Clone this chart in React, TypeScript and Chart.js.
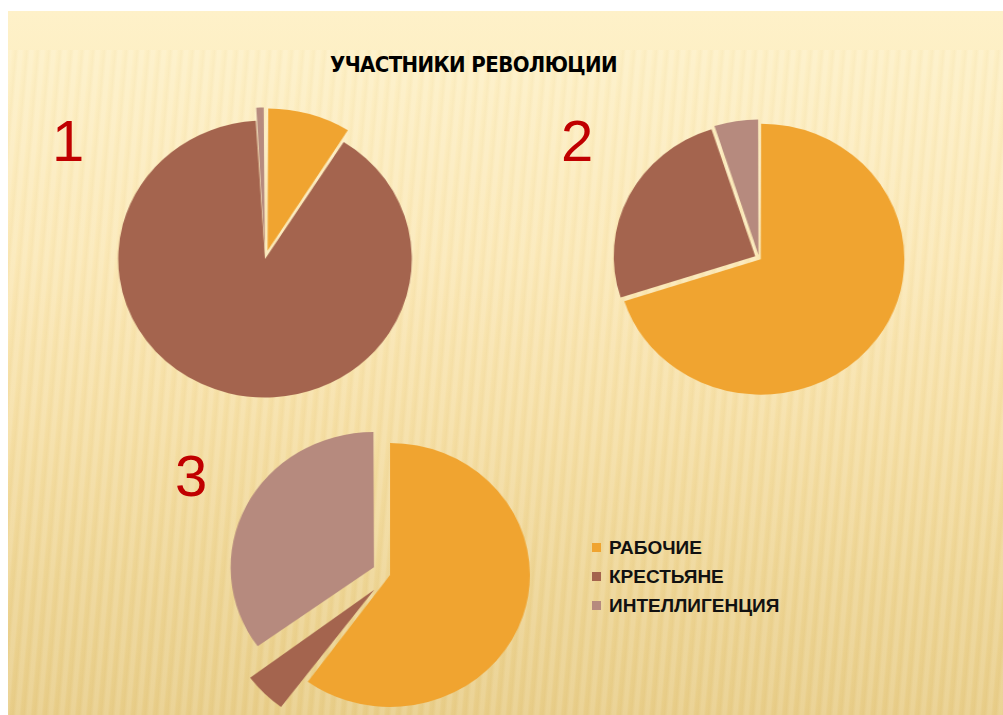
import React, { useEffect, useRef } from "react";
import { Chart, registerables } from "chart.js";

Chart.register(...registerables);

// ---- data ----
const categories = ["РАБОЧИЕ", "КРЕСТЬЯНЕ", "ИНТЕЛЛИГЕНЦИЯ"];
const pie1Values = [9, 90, 1];
const pie2Values = [70, 25, 5];
const pie3Values = [60, 5, 35];
const pieNumbers = ["1", "2", "3"];
const title = "УЧАСТНИКИ РЕВОЛЮЦИИ";

// ---- styles ----
const sliceColors = ["#F0A430", "#A4644E", "#B68A7E"];
const STRETCH = 1.06;
const CANVAS = 360;
// Chart.js translates an arc by offset / 4 pixels
const OFFSET_SCALE = 4;

type PieCfg = { values: number[]; cx: number; cy: number; r: number; offsets: number[] };
const pies: PieCfg[] = [
  { values: pie1Values, cx: 265, cy: 258.5, r: 138.5, offsets: [8.5, 0, 6.7] },
  { values: pie2Values, cx: 758.5, cy: 257.6, r: 133.5, offsets: [2, 4, 3] },
  { values: pie3Values, cx: 390, cy: 575, r: 132, offsets: [0, 21, 17] },
];
const numberPos = [
  { left: 52, top: 106 },
  { left: 561, top: 106 },
  { left: 175, top: 441 },
];

function Pie({ cfg }: { cfg: PieCfg }) {
  const ref = useRef<HTMLCanvasElement | null>(null);
  useEffect(() => {
    if (!ref.current) return;
    const chart = new Chart(ref.current, {
      type: "pie",
      data: {
        labels: categories,
        datasets: [
          {
            data: cfg.values,
            backgroundColor: sliceColors,
            borderWidth: 0,
            offset: cfg.offsets.map((o) => o * OFFSET_SCALE),
          },
        ],
      },
      options: {
        responsive: false,
        animation: false,
        radius: cfg.r,
        layout: { padding: 0 },
        plugins: { legend: { display: false }, tooltip: { enabled: false }, title: { display: false } },
      } as any,
    });
    return () => chart.destroy();
  }, [cfg]);
  return (
    <div
      style={{
        position: "absolute",
        left: cfg.cx - CANVAS / 2,
        top: cfg.cy - CANVAS / 2,
        width: CANVAS,
        height: CANVAS,
        transform: `scaleX(${STRETCH})`,
        transformOrigin: "50% 50%",
      }}
    >
      <canvas ref={ref} width={CANVAS} height={CANVAS} style={{ display: "block" }} />
    </div>
  );
}

export default function App() {
  return (
    <div
      style={{
        position: "fixed",
        left: 0,
        top: 0,
        width: 1003,
        height: 715,
        overflow: "hidden",
        background: "#ffffff",
      }}
    >
      <div
        style={{
          position: "absolute",
          left: 8,
          top: 11,
          width: 995,
          height: 704,
          background:
            "linear-gradient(180deg, #FEF1C9 0%, #FDEFC4 8%, #FBE8B6 35%, #F5DEA3 60%, #EED594 80%, #E8CD88 100%)",
        }}
      />
      <div
        style={{
          position: "absolute",
          left: 8,
          top: 50,
          width: 995,
          height: 665,
          background:
            "repeating-linear-gradient(95deg, rgba(255,255,255,0.12) 0px, rgba(255,255,255,0.12) 3px, rgba(255,255,255,0) 5px, rgba(190,150,60,0.04) 8px, rgba(255,255,255,0.12) 11px)",
        }}
      />
      <div
        style={{
          position: "absolute",
          left: 0,
          width: 947,
          top: 52,
          textAlign: "center",
          fontFamily: '"Liberation Sans Narrow", "DejaVu Sans Condensed", "Liberation Sans", sans-serif',
          fontWeight: 700,
          fontSize: 22,
          letterSpacing: -0.6,
          color: "#000",
          whiteSpace: "nowrap",
        }}
      >
        {title}
      </div>
      {pies.map((p, i) => (
        <Pie key={i} cfg={p} />
      ))}
      {pieNumbers.map((n, i) => (
        <div
          key={n}
          style={{
            position: "absolute",
            left: numberPos[i].left,
            top: numberPos[i].top,
            fontFamily: '"Liberation Sans", sans-serif',
            fontSize: 58,
            lineHeight: "70px",
            color: "#C00000",
          }}
        >
          {n}
        </div>
      ))}
      <div style={{ position: "absolute", left: 592, top: 533 }}>
        {categories.map((c, i) => (
          <div
            key={c}
            style={{
              display: "flex",
              alignItems: "center",
              height: 29,
              fontFamily: '"Liberation Sans", sans-serif',
              fontWeight: 700,
              fontSize: 19,
              color: "#111",
            }}
          >
            <span style={{ width: 9, height: 9, background: sliceColors[i], marginRight: 8, display: "inline-block" }} />
            <span>{c}</span>
          </div>
        ))}
      </div>
    </div>
  );
}
